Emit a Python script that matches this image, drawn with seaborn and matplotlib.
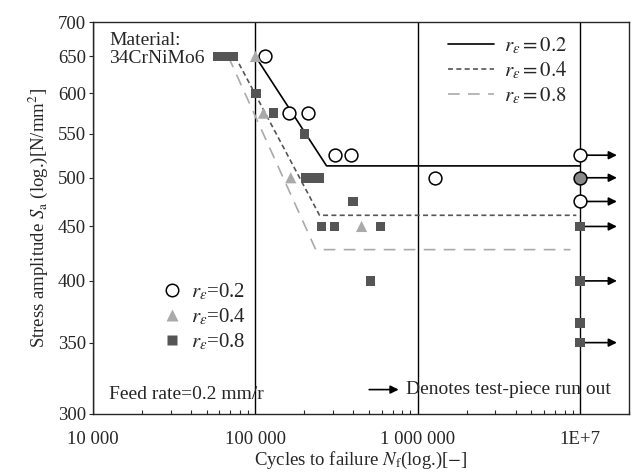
import matplotlib
matplotlib.use("Agg")
import matplotlib.pyplot as plt
import seaborn as sns
import numpy as np
import pandas as pd
from matplotlib.ticker import FixedLocator, NullLocator, LogLocator, NullFormatter
from matplotlib.lines import Line2D

# failure points, r_eps = 0.2 / 0.4 / 0.8
circ_N = [1.15e5, 1.62e5, 2.1e5, 3.1e5, 3.9e5, 1.27e6]
circ_S = [650, 575, 575, 525, 525, 500]
tri_N = [1.0e5, 1.12e5, 1.65e5, 4.5e5]
tri_S = [650, 575, 500, 450]
sq_N = [5.9e4, 6.6e4, 7.3e4, 1.01e5, 1.29e5, 2.0e5, 2.03e5, 2.25e5, 2.48e5,
        4.0e5, 2.55e5, 3.07e5, 5.9e5, 5.1e5]
sq_S = [650, 650, 650, 600, 575, 550, 500, 500, 500, 475, 450, 450, 450, 400]

# run outs at 1E+7
ro_circ_S = [525, 475]
ro_grey_S = [500]
ro_sq_S = [450, 400, 365, 350]
ro_N = 1e7
arrow_S = [525, 500, 475, 450, 400, 350]

# S-N curves
c02_N = [1e5, 2.74e5, 1e7]
c02_S = [650, 513, 513]
c04_N = [7.5e4, 2.48e5, 9.45e6]
c04_S = [650, 461, 461]
c08_N = [6.8e4, 2.35e5, 8.7e6]
c08_S = [650, 428, 428]

xticks = [1e4, 1e5, 1e6, 1e7]
xticklabels = ["10 000", "100 000", "1 000 000", "1E+7"]
yticks = [300, 350, 400, 450, 500, 550, 600, 650, 700]

sns.set_style("ticks")
plt.rcParams['font.family'] = ['Liberation Serif', 'DejaVu Serif']
plt.rcParams['mathtext.fontset'] = 'stix'
plt.rcParams['font.size'] = 13

fig = plt.figure(figsize=(6.33, 4.73), dpi=100)
ax = fig.add_axes([0.147, 0.125, 0.847, 0.828])
ax.set_xscale('log')
ax.set_yscale('log')

# curves
sns.lineplot(x=c02_N, y=c02_S, ax=ax, color='black', lw=1.2, sort=False,
             label=r'$r_\varepsilon = 0.2$')
sns.lineplot(x=c04_N, y=c04_S, ax=ax, color='#555555', lw=1.2, sort=False,
             dashes=False, label=r'$r_\varepsilon = 0.4$')
sns.lineplot(x=c08_N, y=c08_S, ax=ax, color='#aaaaaa', lw=1.2, sort=False,
             dashes=False, label=r'$r_\varepsilon = 0.8$')
ax.lines[1].set_dashes((3, 2))
ax.lines[2].set_dashes((7, 5))
line_leg = ax.legend(loc='upper right', bbox_to_anchor=(0.92, 1.015), frameon=False,
                     handlelength=2.2, fontsize=15, labelspacing=0.2,
                     handletextpad=0.5)
ax.add_artist(line_leg)

# runout arrows
for s in arrow_S:
    ax.annotate('', xy=(1.68e7, s), xytext=(ro_N, s),
                arrowprops=dict(arrowstyle='-|>', color='black', lw=1.2,
                                mutation_scale=12, shrinkA=0, shrinkB=0))

# points
sns.scatterplot(x=circ_N, y=circ_S, ax=ax, marker='o', s=85, facecolor='white',
                edgecolor='black', linewidth=1.1, zorder=5)
sns.scatterplot(x=tri_N, y=tri_S, ax=ax, marker='^', s=65, color='#aaaaaa',
                edgecolor='none', zorder=5)
sns.scatterplot(x=sq_N, y=sq_S, ax=ax, marker='s', s=48, color='#555555',
                edgecolor='none', zorder=5)
sns.scatterplot(x=[ro_N] * len(ro_sq_S), y=ro_sq_S, ax=ax, marker='s', s=48,
                color='#555555', edgecolor='none', zorder=6)
sns.scatterplot(x=[ro_N] * len(ro_circ_S), y=ro_circ_S, ax=ax, marker='o', s=85,
                facecolor='white', edgecolor='black', linewidth=1.1, zorder=6)
sns.scatterplot(x=[ro_N] * len(ro_grey_S), y=ro_grey_S, ax=ax, marker='o', s=85,
                facecolor='#888888', edgecolor='black', linewidth=1.1, zorder=6)

# marker legend
mk_handles = [
    Line2D([], [], ls='', marker='o', ms=9, mfc='white', mec='black', mew=1.1),
    Line2D([], [], ls='', marker='^', ms=8, mfc='#aaaaaa', mec='none'),
    Line2D([], [], ls='', marker='s', ms=7, mfc='#555555', mec='none'),
]
mk_labels = [r'$r_\varepsilon$=0.2', r'$r_\varepsilon$=0.4', r'$r_\varepsilon$=0.8']
ax.legend(mk_handles, mk_labels, loc='lower left', bbox_to_anchor=(0.085, 0.11),
          frameon=False, fontsize=15, handletextpad=0.2, labelspacing=0.2,
          handlelength=1.4)

# texts
ax.text(0.03, 0.975, 'Material:\n34CrNiMo6', transform=ax.transAxes, fontsize=14,
        va='top', ha='left', linespacing=1.1)
ax.text(0.03, 0.05, 'Feed rate=0.2 mm/r', transform=ax.transAxes, fontsize=14,
        va='center', ha='left')
ax.annotate('', xy=(0.57, 0.062), xytext=(0.515, 0.062), xycoords='axes fraction',
            arrowprops=dict(arrowstyle='-|>', color='black', lw=1.2,
                            mutation_scale=12, shrinkA=0, shrinkB=0))
ax.text(0.583, 0.062, 'Denotes test-piece run out', transform=ax.transAxes,
        fontsize=14, va='center', ha='left')

# axes
ax.set_xlim(1e4, 2e7)
ax.set_ylim(300, 700)
ax.xaxis.set_major_locator(FixedLocator(xticks))
ax.set_xticklabels(xticklabels)
ax.xaxis.set_minor_locator(LogLocator(base=10, subs=np.arange(2, 10)))
ax.xaxis.set_minor_formatter(NullFormatter())
ax.yaxis.set_major_locator(FixedLocator(yticks))
ax.set_yticklabels([str(v) for v in yticks])
ax.yaxis.set_minor_locator(NullLocator())
ax.tick_params(axis='x', which='major', length=0, labelsize=13.5, pad=12)
ax.tick_params(axis='x', which='minor', direction='in', length=3, width=0.8)
ax.tick_params(axis='y', which='major', direction='out', length=3, width=0.8,
               labelsize=13.5, pad=2)
ax.grid(axis='x', which='major', color='black', lw=1.0)
for sp in ax.spines.values():
    sp.set_linewidth(1.0)
    sp.set_visible(True)

ax.set_xlabel(r'Cycles to failure $N_\mathrm{f}$(log.)[$-$]', fontsize=13.5, labelpad=2)
ax.set_ylabel(r'Stress amplitude $S_\mathrm{a}$ (log.)[N/mm$^2$]', fontsize=13.5,
              labelpad=6)

fig.savefig('out.png', dpi=100)
